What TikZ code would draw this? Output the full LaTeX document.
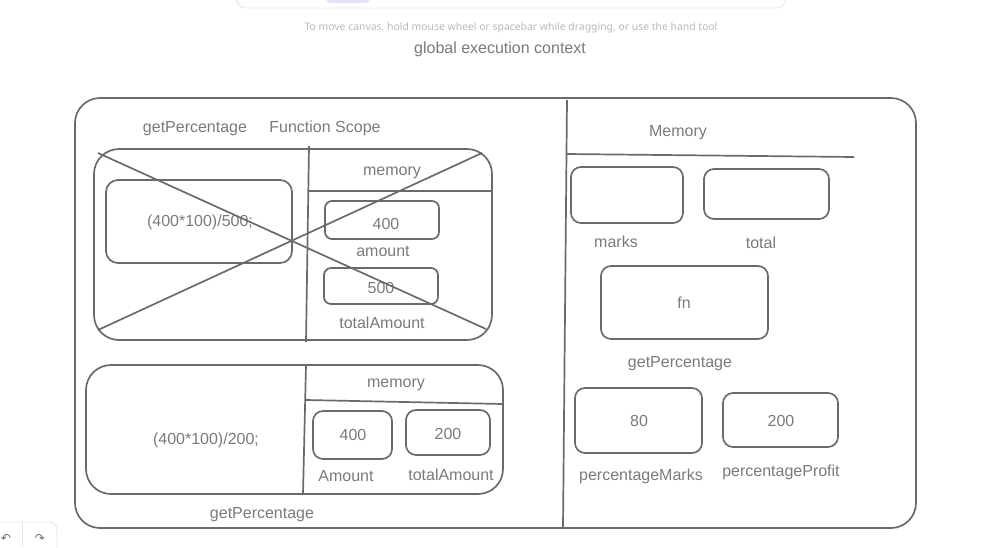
\documentclass[tikz,border=0pt]{standalone}
\usepackage{fontspec}
\setmainfont{Liberation Sans}
\newfontfamily\hintfont{Noto Sans}
\newfontfamily\symfont{DejaVu Sans}
\definecolor{ink}{HTML}{6A6A6A}
\definecolor{txt}{HTML}{7A7A7A}
\definecolor{hint}{HTML}{B8B8B8}
\definecolor{uiline}{HTML}{E6E6E6}
\definecolor{lav}{HTML}{E3E2FE}
\begin{document}
\begin{tikzpicture}[x=1pt,y=-1pt,
  sk/.style={draw=ink,line width=1.7pt,rounded corners=#1,inner sep=0pt},
  sk/.default=10pt,
  lbl/.style={text=txt,font=\fontsize{16}{18}\selectfont,inner sep=0pt,anchor=center,yshift=-1.5pt},
  ln/.style={draw=ink,line width=1.7pt}]
\useasboundingbox (0,0) rectangle (983,547);
% UI chrome
\draw[uiline,fill=white,line width=0.8pt,rounded corners=10pt] (236,-30) rectangle (786,8);
\fill[lav,rounded corners=4pt] (326,-8) rectangle (370,3);
\node[text=hint,font=\hintfont\fontsize{10.4}{12}\selectfont,inner sep=0pt] (hinttext) at (511,28) {To move canvas, hold mouse wheel or spacebar while dragging, or use the hand tool};
\draw[uiline,line width=0.8pt,rounded corners=8pt] (-10,560) -- (-10,522) -- (57,522) -- (57,560);
\draw[uiline,line width=0.8pt] (22,522) -- (22,547);
\node[text=ink,font=\symfont\fontsize{12}{12}\selectfont,inner sep=0pt] (undo) at (6,538) {↶};
\node[text=ink,font=\symfont\fontsize{12}{12}\selectfont,inner sep=0pt] (redo) at (40,538) {↷};
% title
\node[lbl] (title) at (500,48) {global execution context};
% outer frame
\node[sk=25pt,minimum width=841pt,minimum height=430pt] (gec) at (495.5,313) {};
\coordinate (dvt) at (567,100);
\coordinate (dvb) at (563,527);
\draw[ln] (dvt) -- (dvb);
% right side: memory
\node[lbl] (memtitle) at (678,131) {Memory};
\coordinate (mlA) at (567,154);
\coordinate (mlB) at (854,157);
\draw[ln] (mlA) -- (mlB);
\node[sk,minimum width=112pt,minimum height=56pt] (marksbox) at (627,195) {};
\node[lbl] (marks) at (616,240) {marks};
\node[sk,minimum width=125pt,minimum height=50pt] (totalbox) at (766.5,194) {};
\node[lbl] (total) at (761,241) {total};
\node[sk,minimum width=167pt,minimum height=73pt] (fnbox) at (684.5,302.5) {};
\node[lbl] (fn) at (684,301) {fn};
\node[lbl] (getp) at (680,362) {getPercentage};
\node[sk,minimum width=127pt,minimum height=65pt] (pmbox) at (638.5,420.5) {};
\node[lbl] (eighty) at (639,419) {80};
\node[lbl] (pm) at (641,475) {percentageMarks};
\node[sk,minimum width=115pt,minimum height=54pt] (ppbox) at (780.5,420) {};
\node[lbl] (twohundred) at (781,419) {200};
\node[lbl] (pp) at (781,471) {percentageProfit};
% left: first function scope (crossed out)
\node[lbl] (fsname) at (195,127) {getPercentage};
\node[lbl] (fsscope) at (325,127) {Function Scope};
\node[sk=25pt,minimum width=398pt,minimum height=191pt] (fs1) at (293,244.5) {};
\coordinate (v1t) at (309,146);
\coordinate (v1b) at (306,342);
\draw[ln] (v1t) -- (v1b);
\coordinate (h1a) at (308,191);
\coordinate (h1b) at (492,191);
\draw[ln] (h1a) -- (h1b);
\node[lbl] (mem1) at (392,171) {memory};
\node[sk=12pt,minimum width=186pt,minimum height=83pt] (code1) at (199,221.5) {};
\node[lbl] (code1t) at (200,221) {(400*100)/500;};
\node[sk=7pt,minimum width=114pt,minimum height=38pt] (amt1box) at (382,220) {};
\node[lbl] (amt1v) at (386,222) {400};
\node[lbl] (amt1) at (383,250) {amount};
\node[sk=7pt,minimum width=114pt,minimum height=36pt] (tot1box) at (381,286) {};
\node[lbl] (tot1v) at (381,286) {500};
\node[lbl] (tot1) at (382,321) {totalAmount};
\coordinate (xa1) at (98,153);
\coordinate (xa2) at (486,329);
\coordinate (xb1) at (482,153);
\coordinate (xb2) at (98,330);
\draw[ln] (xa1) -- (xa2);
\draw[ln] (xb1) -- (xb2);
% left: second function scope
\node[sk=25pt,minimum width=417pt,minimum height=129pt] (fs2) at (294.5,429.5) {};
\coordinate (v2t) at (306,365);
\coordinate (v2b) at (303,494);
\draw[ln] (v2t) -- (v2b);
\coordinate (h2a) at (306,400);
\coordinate (h2b) at (503,404);
\draw[ln] (h2a) -- (h2b);
\node[lbl] (mem2) at (396,383) {memory};
\node[lbl] (code2) at (206,439) {(400*100)/200;};
\node[sk,minimum width=79pt,minimum height=48pt] (amt2box) at (352.5,435) {};
\node[lbl] (amt2v) at (353,433) {400};
\node[lbl] (amt2) at (346,475) {Amount};
\node[sk,minimum width=84pt,minimum height=45pt] (tot2box) at (448,432.5) {};
\node[lbl] (tot2v) at (448,432) {200};
\node[lbl] (tot2) at (451,473) {totalAmount};
\node[lbl] (getp2) at (262,513) {getPercentage};
\end{tikzpicture}
\end{document}
